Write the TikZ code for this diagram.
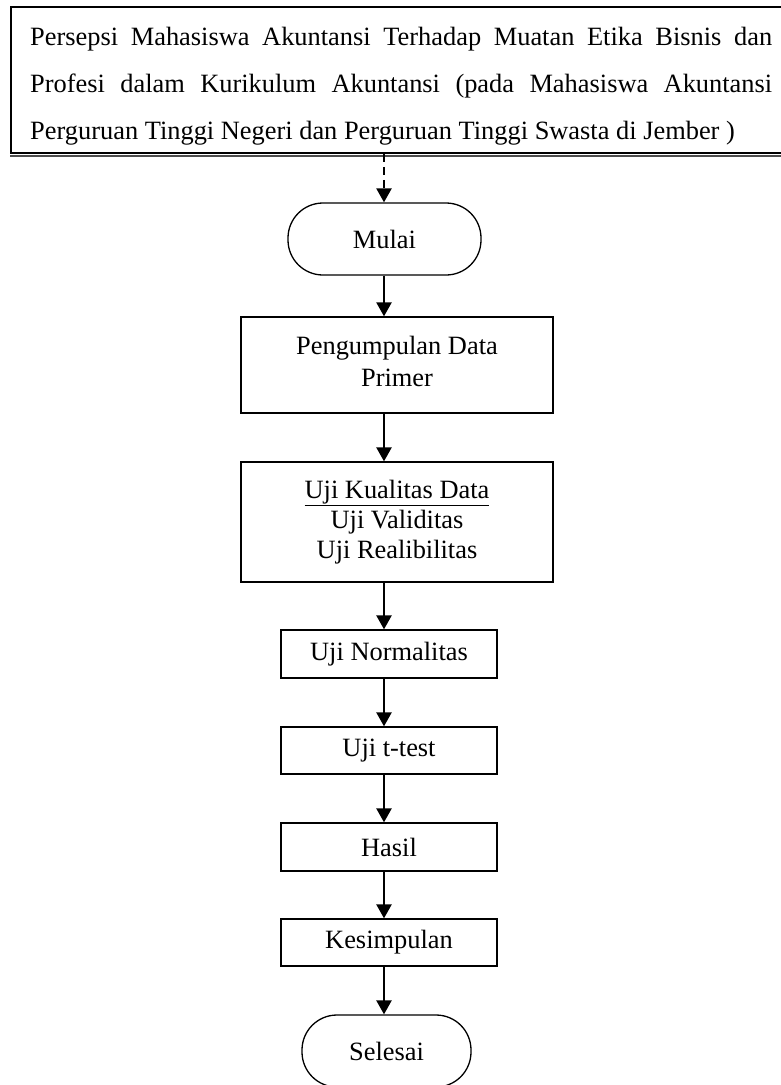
\documentclass[tikz,border=0pt]{standalone}
\usepackage{fontspec}
\setmainfont{Liberation Serif}
\usetikzlibrary{arrows.meta}
\begin{document}
\begin{tikzpicture}[x=1pt,y=-1pt,
  box/.style={draw,line width=1.3pt,rectangle,inner sep=0pt,align=center,
    font=\fontsize{26.4}{31}\selectfont},
  term/.style={box,rounded corners=35pt},
  arr/.style={line width=2.4pt,-{Triangle[width=15pt,length=14pt]}},
  dasharr/.style={arr,dash pattern=on 8pt off 5pt},
  ttl/.style={inner sep=0pt,anchor=base west,font=\fontsize{26.4}{47}\selectfont}]
\useasboundingbox (0,0) rectangle (781,1085);
\clip (0,0) rectangle (781,1085);
\coordinate (spine) at (384,0);
% title frame
\node[draw,line width=1.8pt,inner sep=0pt,minimum width=779pt,minimum height=146pt] (title) at (400.5,80) {};
\draw[line width=1.2pt,black!70] ([yshift=-2pt]title.south west) -- ([yshift=-2pt]title.south east);
\node[ttl] (t1) at (30,45) {\makebox[742pt][s]{Persepsi Mahasiswa Akuntansi Terhadap Muatan Etika Bisnis dan}};
\node[ttl] (t2) at (30,92) {\makebox[742pt][s]{Profesi dalam Kurikulum Akuntansi (pada Mahasiswa Akuntansi}};
\node[ttl] (t3) at (30,139) {Perguruan Tinggi Negeri dan Perguruan Tinggi Swasta di Jember )};
% flow
\node[term,minimum width=193pt,minimum height=72pt] (mulai) at (384.5,239) {Mulai};
\node[box,minimum width=312pt,minimum height=96pt] (peng) at (397,365) {Pengumpulan Data\\[1pt]Primer\\[-23pt]};
\node[box,minimum width=312pt,minimum height=120pt,font=\fontsize{26.4}{30}\selectfont] (kual) at (397,522) {\underline{Uji Kualitas Data}\\Uji Validitas\\Uji Realibilitas};
\node[box,minimum width=216pt,minimum height=48pt] (norm) at (389,654) {Uji Normalitas};
\node[box,minimum width=216pt,minimum height=47pt] (ttest) at (389,750.5) {Uji t-test};
\node[box,minimum width=216pt,minimum height=48pt] (hasil) at (389,847) {Hasil};
\node[box,minimum width=216pt,minimum height=47pt] (kes) at (389,942.5) {Kesimpulan};
\node[term,minimum width=169pt,minimum height=72pt] (selesai) at (386.5,1051) {Selesai};
% connectors
\draw[dasharr] (title.south -| spine) -- (mulai.north -| spine);
\draw[arr] (mulai.south -| spine) -- (peng.north -| spine);
\draw[arr] (peng.south -| spine) -- (kual.north -| spine);
\draw[arr] (kual.south -| spine) -- (norm.north -| spine);
\draw[arr] (norm.south -| spine) -- (ttest.north -| spine);
\draw[arr] (ttest.south -| spine) -- (hasil.north -| spine);
\draw[arr] (hasil.south -| spine) -- (kes.north -| spine);
\draw[arr] (kes.south -| spine) -- (selesai.north -| spine);
\end{tikzpicture}
\end{document}
